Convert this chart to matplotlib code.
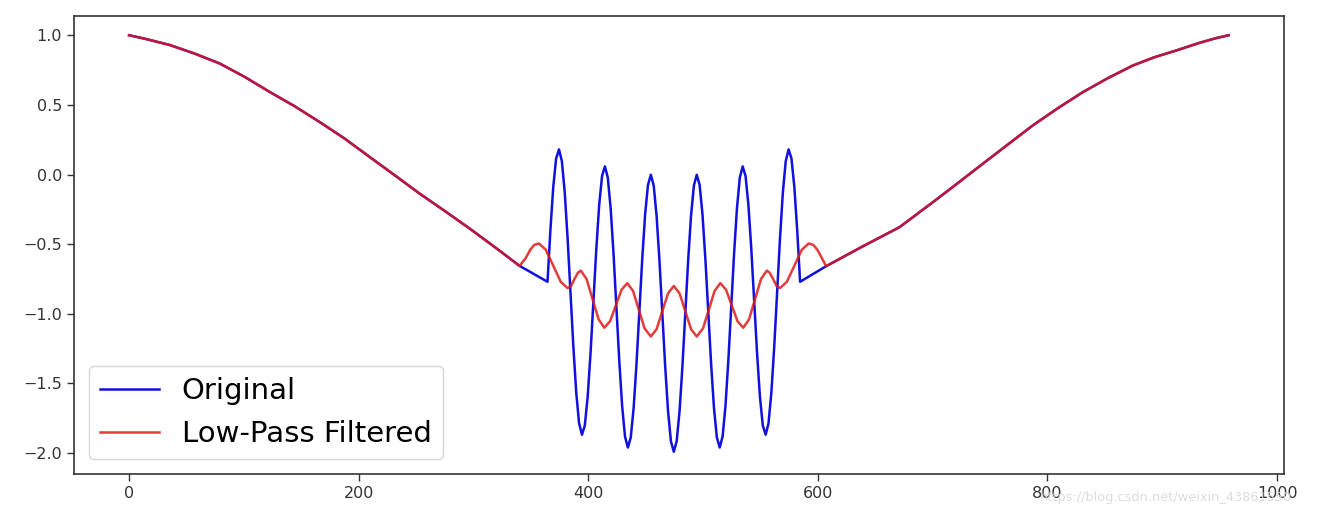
import matplotlib
matplotlib.use("Agg")
import matplotlib.pyplot as plt

# ---- shared smooth part (left) ----
base_left_x = [0, 13.7, 35.4, 57.2, 79.0, 100.7, 122.5, 144.3, 166.0, 187.8,
               209.6, 231.4, 253.1, 274.9, 296.7, 318.4, 340.2]
base_left_y = [1.0, 0.975, 0.930, 0.868, 0.797, 0.701, 0.593, 0.490, 0.377, 0.258,
               0.126, -0.005, -0.137, -0.261, -0.388, -0.520, -0.656]

# ---- shared smooth part (right) ----
base_right_x = [607.2, 638.8, 671.1, 700.1, 721.8, 743.6, 765.4, 787.1, 809.0,
                830.7, 852.4, 874.2, 893.1, 912.0, 932.3, 946.8, 957.8]
base_right_y = [-0.658, -0.517, -0.378, -0.199, -0.062, 0.077, 0.215, 0.352, 0.476,
                0.591, 0.691, 0.782, 0.842, 0.890, 0.945, 0.979, 1.0]

# ---- original signal, oscillating section ----
orig_mid_x = [364.5, 367.0, 369.5, 372.0, 374.5, 377.0, 379.5, 382.0, 384.5, 387.0,
              389.5, 392.0, 394.5, 397.0, 399.5, 402.0, 404.5, 407.0, 409.5, 412.0,
              414.5, 417.0, 419.5, 422.0, 424.5, 427.0, 429.5, 432.0, 434.5, 437.0,
              439.5, 442.0, 444.5, 447.0, 449.5, 452.0, 454.5, 457.0, 459.5, 462.0,
              464.5, 467.0, 469.5, 472.0, 474.5, 477.0, 479.5, 482.0, 484.5, 487.0,
              489.5, 492.0, 494.5, 497.0, 499.5, 502.0, 504.5, 507.0, 509.5, 512.0,
              514.5, 517.0, 519.5, 522.0, 524.5, 527.0, 529.5, 532.0, 534.5, 537.0,
              539.5, 542.0, 544.5, 547.0, 549.5, 552.0, 554.5, 557.0, 559.5, 562.0,
              564.5, 567.0, 569.5, 572.0, 574.5, 577.0, 579.5, 582.0, 584.5]
orig_mid_y = [-0.770, -0.401, -0.090, 0.115, 0.180, 0.096, -0.128, -0.458, -0.846, -1.233,
              -1.563, -1.786, -1.868, -1.801, -1.593, -1.279, -0.907, -0.534, -0.220, -0.011,
              0.058, -0.022, -0.243, -0.569, -0.952, -1.336, -1.662, -1.881, -1.960, -1.888,
              -1.677, -1.359, -0.983, -0.607, -0.288, -0.075, -0.002, -0.079, -0.296, -0.618,
              -0.998, -1.378, -1.700, -1.915, -1.990, -1.915, -1.700, -1.378, -0.998, -0.618,
              -0.296, -0.079, -0.002, -0.075, -0.288, -0.607, -0.983, -1.359, -1.677, -1.888,
              -1.960, -1.881, -1.662, -1.336, -0.952, -0.569, -0.243, -0.022, 0.058, -0.011,
              -0.220, -0.534, -0.907, -1.279, -1.593, -1.801, -1.868, -1.786, -1.563, -1.233,
              -0.846, -0.458, -0.128, 0.096, 0.180, 0.115, -0.090, -0.401, -0.770]

# ---- filtered signal, section that differs ----
filt_mid_x = [345.5, 349.5, 353.0, 357.0, 363.0, 369.5, 376.0, 382.0, 385.0, 388.0,
              391.0, 393.5, 398.5, 403.75, 409.0, 414.0, 419.0, 424.0, 429.0, 434.0,
              439.0, 444.0, 449.0, 454.5, 459.5, 464.5, 469.5, 474.5, 479.5, 484.5,
              489.5, 494.5, 500.0, 505.0, 510.0, 515.0, 520.0, 525.0, 530.0, 535.0,
              540.0, 545.25, 550.5, 555.5, 558.0, 561.0, 564.0, 567.0, 573.0, 579.5,
              586.0, 592.0, 596.0, 599.5, 603.5]
filt_mid_y = [-0.600, -0.540, -0.505, -0.495, -0.540, -0.655, -0.770, -0.815, -0.800, -0.750,
              -0.705, -0.690, -0.750, -0.895, -1.040, -1.100, -1.053, -0.940, -0.827, -0.780,
              -0.836, -0.970, -1.104, -1.163, -1.110, -0.980, -0.853, -0.800, -0.853, -0.980,
              -1.110, -1.163, -1.104, -0.970, -0.836, -0.780, -0.827, -0.940, -1.053, -1.100,
              -1.040, -0.895, -0.750, -0.690, -0.705, -0.750, -0.800, -0.815, -0.770, -0.655,
              -0.540, -0.495, -0.505, -0.540, -0.600]

series_labels = ["Original", "Low-Pass Filtered"]
xticks = [0, 200, 400, 600, 800, 1000]
yticks = [-2.0, -1.5, -1.0, -0.5, 0.0, 0.5, 1.0]

orig_x = base_left_x + orig_mid_x + base_right_x
orig_y = base_left_y + orig_mid_y + base_right_y
filt_x = base_left_x + filt_mid_x + base_right_x
filt_y = base_left_y + filt_mid_y + base_right_y

fig = plt.figure(figsize=(13.18, 5.19), dpi=100)
ax = fig.add_axes([0.0561, 0.0867, 0.9181, 0.883])
ax.plot(orig_x, orig_y, color="#1010e0", lw=1.8, label=series_labels[0])
ax.plot(filt_x, filt_y, color="#e01818", lw=1.8, alpha=0.85, label=series_labels[1])

ax.set_xlim(-48, 1006)
ax.set_ylim(-2.15, 1.14)
ax.set_xticks(xticks)
ax.set_yticks(yticks)
ax.set_xticklabels([str(t) for t in xticks])
ax.set_yticklabels([f"{t:.1f}".replace("-", "\u2212") for t in yticks])
ax.tick_params(labelsize=11.5, length=5, width=1.0, colors="#333333")
for s in ax.spines.values():
    s.set_color("#333333")
    s.set_linewidth(1.2)

ax.legend(loc="lower left", fontsize=21, frameon=True, handlelength=2.0)

fig.text(0.789, 0.035, "https://blog.csdn.net/weixin_43861550", fontsize=9.3,
         color="#d9d9d9", alpha=0.9)

fig.savefig("out.png", dpi=100)
